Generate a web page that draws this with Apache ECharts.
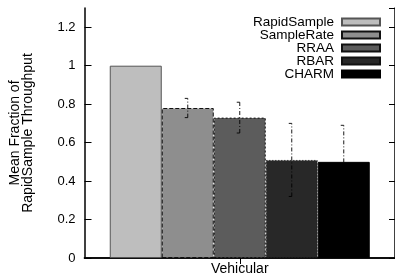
<!DOCTYPE html>
<html>
<head>
<meta charset="utf-8">
<script src="https://cdn.jsdelivr.net/npm/echarts@6/dist/echarts.min.js"></script>
<style>
  html, body { margin: 0; padding: 0; background: #fff; }
  #chart { width: 395px; height: 280px; }
</style>
</head>
<body>
<div id="chart"></div>
<script>
  // data
  const categories = ['Vehicular'];
  const schemes = ['RapidSample', 'SampleRate', 'RRAA', 'RBAR', 'CHARM'];
  const means = [1.0, 0.78, 0.73, 0.51, 0.50];
  const errLow = [null, 0.73, 0.65, 0.32, 0.31];
  const errHigh = [null, 0.83, 0.81, 0.70, 0.69];
  const yTicks = [0, 0.2, 0.4, 0.6, 0.8, 1, 1.2];

  const fills = ['#bebebe', '#8e8e8e', '#5c5c5c', '#282828', '#000000'];
  const borders = ['#555', '#111', '#111', '#111', '#000'];
  const borderTypes = ['solid', 'dashed', [2, 2], [1, 2], 'solid'];
  const barW = 52;
  const font = 'Liberation Sans, Arial, Helvetica, sans-serif';

  const chart = echarts.init(document.getElementById('chart'));

  const barSeries = schemes.map((name, i) => ({
    name,
    type: 'bar',
    barWidth: barW,
    barGap: '0%',
    data: [means[i]],
    itemStyle: {
      color: fills[i],
      borderColor: borders[i],
      borderWidth: 1,
      borderType: borderTypes[i]
    },
    emphasis: { disabled: true },
    z: 2
  }));

  const errData = [];
  schemes.forEach((s, i) => {
    if (errLow[i] != null) errData.push([0, errLow[i], errHigh[i], i]);
  });

  // dash-dot error bars with a short cap on the left
  const errSeries = {
    type: 'custom',
    name: 'err',
    data: errData,
    encode: { x: 0, y: [1, 2] },
    z: 5,
    silent: true,
    renderItem: (params, api) => {
      const i = api.value(3);
      const lo = api.coord([api.value(0), api.value(1)]);
      const hi = api.coord([api.value(0), api.value(2)]);
      const x = lo[0] + (i - (schemes.length - 1) / 2) * barW;
      const style = { stroke: '#000', lineWidth: 0.9, lineDash: [4, 2, 1, 2] };
      const cap = { stroke: '#000', lineWidth: 0.9 };
      return {
        type: 'group',
        children: [
          { type: 'line', shape: { x1: x, y1: lo[1], x2: x, y2: hi[1] }, style },
          { type: 'line', shape: { x1: x - 3, y1: lo[1], x2: x, y2: lo[1] }, style: cap },
          { type: 'line', shape: { x1: x - 3, y1: hi[1], x2: x, y2: hi[1] }, style: cap }
        ]
      };
    }
  };

  const yCommon = {
    type: 'value',
    min: 0,
    max: 1.3,
    interval: 0.2,
    splitLine: { show: false }
  };

  chart.setOption({
    animation: false,
    backgroundColor: '#fff',
    textStyle: { fontFamily: font },
    grid: { left: 83, top: 8, width: 313, height: 250, containLabel: false },
    legend: {
      data: schemes.map(name => ({ name, icon: 'rect' })),
      orient: 'vertical',
      align: 'right',
      right: 14,
      top: 15,
      padding: 0,
      itemWidth: 38,
      itemHeight: 7,
      itemGap: -1,
      selectedMode: false,
      textStyle: { fontFamily: font, fontSize: 13.5, color: '#000', lineHeight: 12, padding: [0, 3, 0, 0] }
    },
    xAxis: [
      {
        type: 'category',
        data: categories,
        position: 'bottom',
        axisLine: { lineStyle: { color: '#000', width: 1.5 } },
        axisTick: { show: true, inside: true, length: 6, alignWithLabel: true, lineStyle: { color: '#000' } },
        axisLabel: { fontSize: 14, color: '#000', margin: 4, fontFamily: font }
      },
      {
        type: 'category',
        data: categories,
        position: 'top',
        axisLine: { lineStyle: { color: '#000', width: 1.5 } },
        axisTick: { show: true, inside: true, length: 6, alignWithLabel: true, lineStyle: { color: '#000' } },
        axisLabel: { show: false }
      }
    ],
    yAxis: [
      Object.assign({}, yCommon, {
        position: 'left',
        name: 'Mean Fraction of\nRapidSample Throughput',
        nameLocation: 'middle',
        nameGap: 50,
        nameTextStyle: { fontSize: 14, color: '#000', lineHeight: 13, fontFamily: font },
        axisLine: { show: true, lineStyle: { color: '#000', width: 1.5 } },
        axisTick: { show: true, inside: true, length: 7, lineStyle: { color: '#000' } },
        axisLabel: {
          fontSize: 13, color: '#000', margin: 9, fontFamily: font, showMaxLabel: false,
          formatter: v => (yTicks.some(t => Math.abs(t - v) < 1e-9) ? String(+v.toFixed(1)) : '')
        }
      }),
      Object.assign({}, yCommon, {
        position: 'right',
        axisLine: { show: true, lineStyle: { color: '#000', width: 1.5 } },
        axisTick: { show: true, inside: true, length: 6, lineStyle: { color: '#000' } },
        axisLabel: { show: false }
      })
    ],
    series: barSeries.concat([errSeries])
  });
</script>
</body>
</html>
